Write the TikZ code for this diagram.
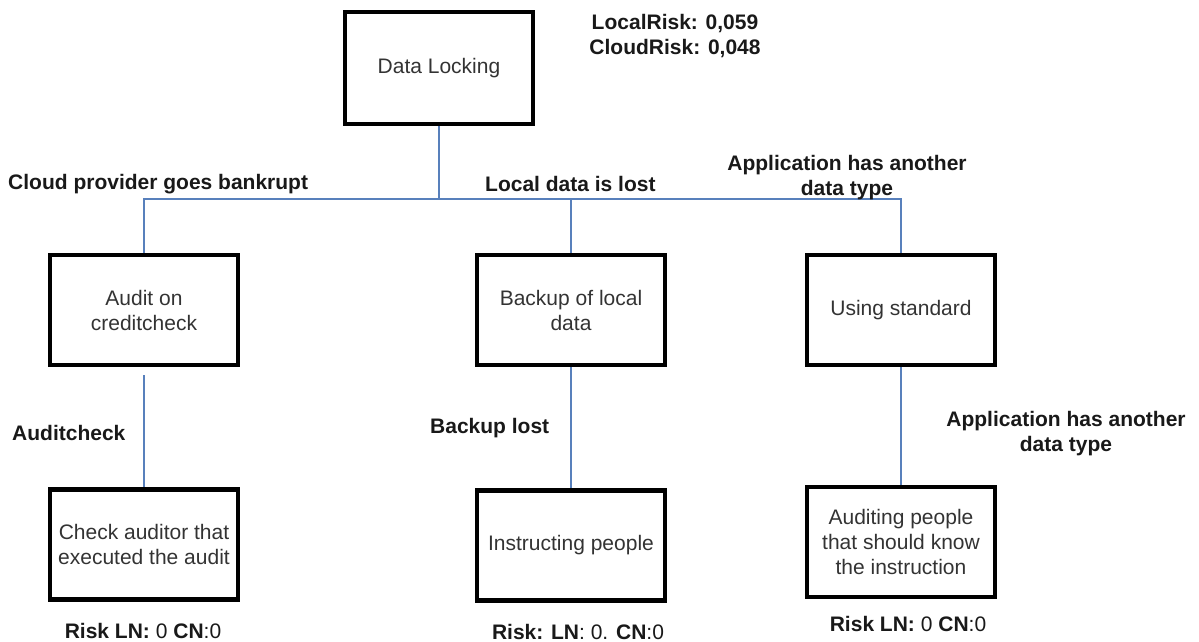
\documentclass[tikz,border=0pt]{standalone}
\usepackage{fontspec}
\setmainfont{Liberation Sans}
\usetikzlibrary{positioning}
\definecolor{linkblue}{RGB}{88,128,188}
\definecolor{boxtext}{RGB}{51,51,51}
\begin{document}
\begin{tikzpicture}[
				x=1pt, y=-1pt,
				font=\fontsize{21}{25}\selectfont,
				% boxes of the tree and the bold labels on the branches
				riskbox/.style={draw=black, line width=4.5pt, minimum width=188, minimum height=110, inner sep=2pt, align=center, text=boxtext},
				branchlabel/.style={font=\fontsize{21}{25}\selectfont\bfseries, align=center, text=black!90, inner sep=0pt},
				link/.style={draw=linkblue, line width=1.4pt}
				]
				\useasboundingbox (0,0) rectangle (1199,642);
				\pgfmathsetmacro{\BusHeight}{199}
				\node[riskbox, minimum height=112] (lock) at (439,68) {Data Locking};
				\node[riskbox] (audit) at (144,310) {Audit on\\creditcheck};
				\node[riskbox] (backup) at (571,310) {Backup of local\\data};
				\node[riskbox] (standard) at (901,310) {Using standard};
				\node[riskbox] (check) at (144,544.5) {Check auditor that\\executed the audit};
				\node[riskbox] (instruct) at (571,545.5) {Instructing people};
				\node[riskbox] (auditing) at (901,542) {Auditing people\\that should know\\the instruction};
				\coordinate (BusLeft) at (144,\BusHeight);
				\coordinate (BusRight) at (901,\BusHeight);
				\draw[link] (audit.north) -- (BusLeft) -- (BusRight) -- (standard.north);
				\draw[link] (lock.south) -- (lock.south |- BusLeft);
				\draw[link] (backup.north) -- (backup.north |- BusLeft);
				\draw[link, shorten <=8pt] (audit.south) -- (check.north);
				\draw[link] (backup.south) -- (instruct.north);
				\draw[link] (standard.south) -- (auditing.north);
				\node[branchlabel] (totalrisk) at (675,36) {LocalRisk: 0,059\\CloudRisk: 0,048};
				\node[branchlabel, anchor=west] (cloudlabel) at (8,184) {Cloud provider goes bankrupt};
				\node[branchlabel, anchor=west] (locallabel) at (485,184) {Local data is lost};
				\node[branchlabel] (typelabel) at (847,178) {Application has another\\data type};
				\node[branchlabel, anchor=west] (auditlabel) at (12,433) {Auditcheck};
				\node[branchlabel, anchor=west] (backuplabel) at (430,428) {Backup lost};
				\node[branchlabel] (typelabeltwo) at (1066,434) {Application has another\\data type};
				\node[branchlabel] (checkrisk) at (143,631) {Risk LN:\mdseries{} 0 \bfseries CN\mdseries:0};
				\node[branchlabel] (instructrisk) at (578,632) {Risk: LN\mdseries: 0. \bfseries CN\mdseries:0};
				\node[branchlabel] (auditingrisk) at (908,624) {Risk LN:\mdseries{} 0 \bfseries CN\mdseries:0};
			\end{tikzpicture}
\end{document}
